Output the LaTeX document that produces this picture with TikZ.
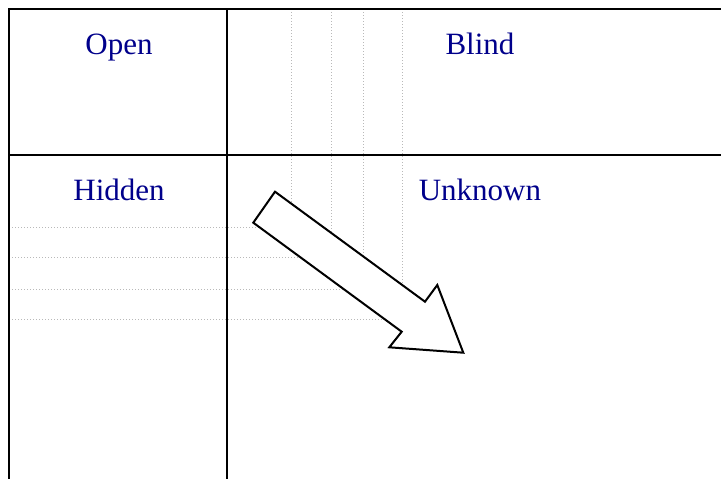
\documentclass[tikz,border=0pt]{standalone}
\usepackage{fontspec}
\setmainfont{Liberation Serif}
\definecolor{labelblue}{RGB}{0,0,139}
\begin{document}
\begin{tikzpicture}[x=1pt,y=-1pt,
  frameline/.style={line width=2pt, black},
  gridline/.style={gray!55, line width=0.8pt, dash pattern=on 0.8pt off 2.2pt},
  lbl/.style={text=labelblue, font=\fontsize{31}{36}\selectfont, anchor=base, inner sep=0pt},
  bigarrow/.style={draw=black, fill=white, line width=2pt, line join=miter}]
\useasboundingbox (0,0) rectangle (721,479);
% dotted grid
\foreach \gx/\gy in {291/206, 331/235, 363/259, 402/288}
  \draw[gridline] (\gx,9) -- (\gx,\gy);
\foreach \gy/\gx in {227/262, 257/303, 289/347, 319/388}
  \draw[gridline] (9,\gy) -- (\gx,\gy);
% frame
\coordinate (tl) at (9,9);
\coordinate (tr) at (721,9);
\coordinate (bl) at (9,479);
\coordinate (vt) at (227,9);
\coordinate (vb) at (227,479);
\coordinate (hl) at (9,155);
\coordinate (hr) at (721,155);
\draw[frameline] (tr) -- (tl) -- (bl);
\draw[frameline] (vt) -- (vb);
\draw[frameline] (hl) -- (hr);
% labels
\node[lbl] (open) at (119,54) {Open};
\node[lbl] (blind) at (480,54) {Blind};
\node[lbl] (hidden) at (119,200) {Hidden};
\node[lbl] (unknown) at (480,200) {Unknown};
% arrow
\draw[bigarrow] (275,191.7) -- (425,301.7) -- (437.3,285) -- (463.3,352.7)
  -- (389.3,347.3) -- (401.7,331.7) -- (253.3,222.7) -- cycle;
\end{tikzpicture}
\end{document}
